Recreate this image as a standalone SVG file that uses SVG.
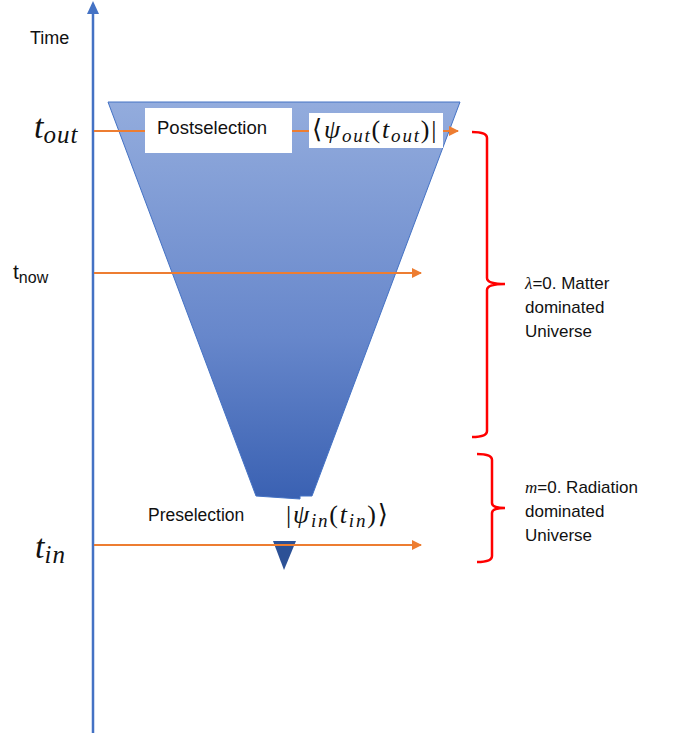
<svg xmlns="http://www.w3.org/2000/svg" width="684" height="735" viewBox="0 0 684 735">
<defs>
<linearGradient id="cone" x1="0" y1="102" x2="0" y2="570" gradientUnits="userSpaceOnUse">
<stop offset="0" stop-color="#93acdd"/>
<stop offset="0.5" stop-color="#6787cb"/>
<stop offset="0.84" stop-color="#3b62b3"/>
<stop offset="1" stop-color="#2c5196"/>
</linearGradient>
<marker id="oarrow" markerWidth="10" markerHeight="10" refX="9" refY="5" orient="auto" markerUnits="userSpaceOnUse">
<path d="M0,0 L10,5 L0,10 Z" fill="#ed7d31"/>
</marker>
</defs>
<style>
.lbl{font-family:"Liberation Sans","Open Sans",sans-serif;fill:#111}
.math{font-family:"Liberation Serif","DejaVu Serif",serif;font-style:italic;fill:#111}
.mrom{font-style:normal}
.orange{stroke:#ed7d31;stroke-width:2;fill:none}
.brace{stroke:#ff0000;stroke-width:2.5;fill:none}
.box{fill:#ffffff}
</style>

<g id="cone-upper">
<polygon points="108,102 460,102 312,496 300,496 300,499 256,496" fill="url(#cone)" stroke="#4472c4" stroke-width="1"/>
</g>
<g id="cone-lower">
<polygon points="273,541 296,541 284,570" fill="#2c5196"/>
</g>

<g id="time-axis">
<line x1="93" y1="733" x2="93" y2="6" stroke="#4472c4" stroke-width="2.5"/>
<path d="M87,14 L93,1 L99,14 Z" fill="#4472c4"/>
<text class="lbl" x="30" y="44" font-size="18">Time</text>
</g>

<g id="connectors">
<line class="orange" x1="94" y1="131" x2="458" y2="131" marker-end="url(#oarrow)"/>
<line class="orange" x1="94" y1="273" x2="421" y2="273" marker-end="url(#oarrow)"/>
<line class="orange" x1="94" y1="545" x2="421" y2="545" marker-end="url(#oarrow)"/>
</g>

<g id="postselection">
<rect class="box" x="145" y="108" width="147" height="45"/>
<text class="lbl" x="157" y="134" font-size="18.5">Postselection</text>
</g>

<g id="psi-out">
<rect class="box" x="309" y="113" width="134" height="35"/>
<text class="math" x="312" y="138" font-size="26" letter-spacing="1.8"><tspan class="mrom">⟨</tspan>ψ<tspan font-size="19" dy="4">out</tspan><tspan class="mrom" dy="-4">(</tspan>t<tspan font-size="19" dy="4">out</tspan><tspan class="mrom" dy="-4">)|</tspan></text>
</g>

<g id="t-out">
<text class="math" x="34" y="138" font-size="34">t<tspan font-size="25" dy="5" letter-spacing="1">out</tspan></text>
</g>
<g id="t-now">
<text class="lbl" x="13" y="279" font-size="21">t<tspan font-size="16" dy="4">now</tspan></text>
</g>
<g id="t-in">
<text class="math" x="35" y="558" font-size="34">t<tspan font-size="25" dy="5" letter-spacing="1">in</tspan></text>
</g>

<g id="preselection">
<text class="lbl" x="148" y="521" font-size="17.5">Preselection</text>
</g>
<g id="psi-in">
<text class="math" x="286" y="523" font-size="26" letter-spacing="1.8"><tspan class="mrom">|</tspan>ψ<tspan font-size="19" dy="4">in</tspan><tspan class="mrom" dy="-4">(</tspan>t<tspan font-size="19" dy="4">in</tspan><tspan class="mrom" dy="-4">)⟩</tspan></text>
</g>

<g id="brace-matter">
<path class="brace" d="M472,132 Q487,132 487,138 L487,278 Q487,284 505,284 Q487,284 487,290 L487,431 Q487,437 472,437"/>
<text class="lbl" font-size="17" x="525" y="289"><tspan font-family="Liberation Serif,serif" font-style="italic">λ</tspan>=0. Matter</text>
<text class="lbl" font-size="17" x="525" y="313">dominated</text>
<text class="lbl" font-size="17" x="525" y="337">Universe</text>
</g>

<g id="brace-radiation">
<path class="brace" d="M477,454 Q492,454 492,460 L492,503 Q492,508 505,508 Q492,508 492,513 L492,556 Q492,562 477,562"/>
<text class="lbl" font-size="17" x="525" y="493"><tspan font-family="Liberation Serif,serif" font-style="italic">m</tspan>=0. Radiation</text>
<text class="lbl" font-size="17" x="525" y="517">dominated</text>
<text class="lbl" font-size="17" x="525" y="541">Universe</text>
</g>
</svg>
